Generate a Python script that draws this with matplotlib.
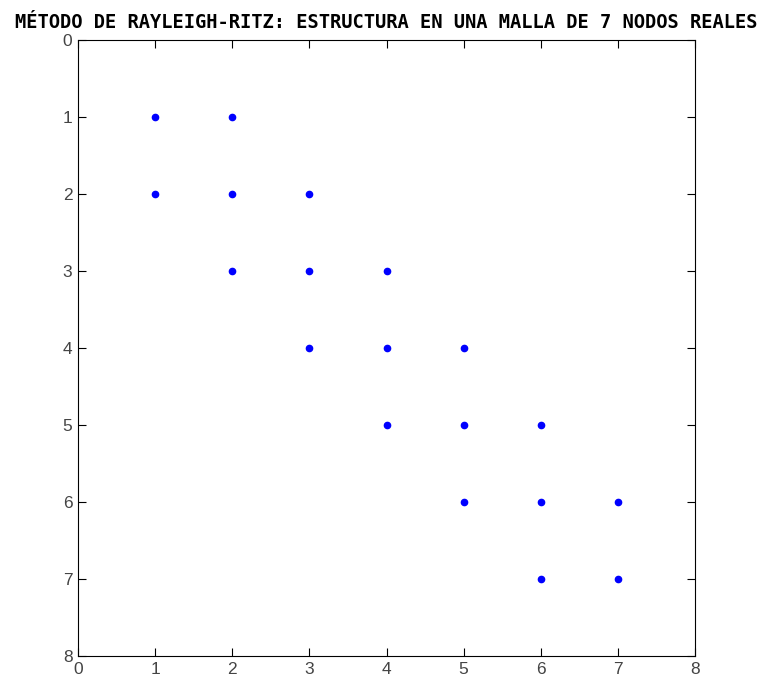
import numpy as np
import matplotlib.pyplot as plt

# nonzero entries of the 7x7 tridiagonal matrix (column, row)
cols = [1, 2, 1, 2, 3, 2, 3, 4, 3, 4, 5, 4, 5, 6, 5, 6, 7, 6, 7]
rows = [1, 1, 2, 2, 2, 3, 3, 3, 4, 4, 4, 5, 5, 5, 6, 6, 6, 7, 7]
ticks = list(range(0, 9))
title = "MÉTODO DE RAYLEIGH-RITZ: ESTRUCTURA EN UNA MALLA DE 7 NODOS REALES"

fig = plt.figure(figsize=(7.64, 6.81), dpi=100)
ax = fig.add_axes([78 / 764, 25 / 681, 617 / 764, 616 / 681])

ax.plot(cols, rows, linestyle='none', marker='o', markersize=4.5,
        color='#0000ff', markeredgecolor='#0000ff')

ax.set_xlim(0, 8)
ax.set_ylim(8, 0)
ax.set_xticks(ticks)
ax.set_yticks(ticks)
ax.tick_params(direction='in', length=6, top=True, right=True,
               labelsize=12.5, colors='#000000', labelcolor='#444444', pad=4)
for lbl in ax.get_xticklabels() + ax.get_yticklabels():
    lbl.set_family('Liberation Sans')
for sp in ax.spines.values():
    sp.set_linewidth(0.8)

ax.set_title(title, family='DejaVu Sans Mono', fontweight='bold',
             fontsize=13.5, pad=9)

fig.savefig('out.png', dpi=100)
